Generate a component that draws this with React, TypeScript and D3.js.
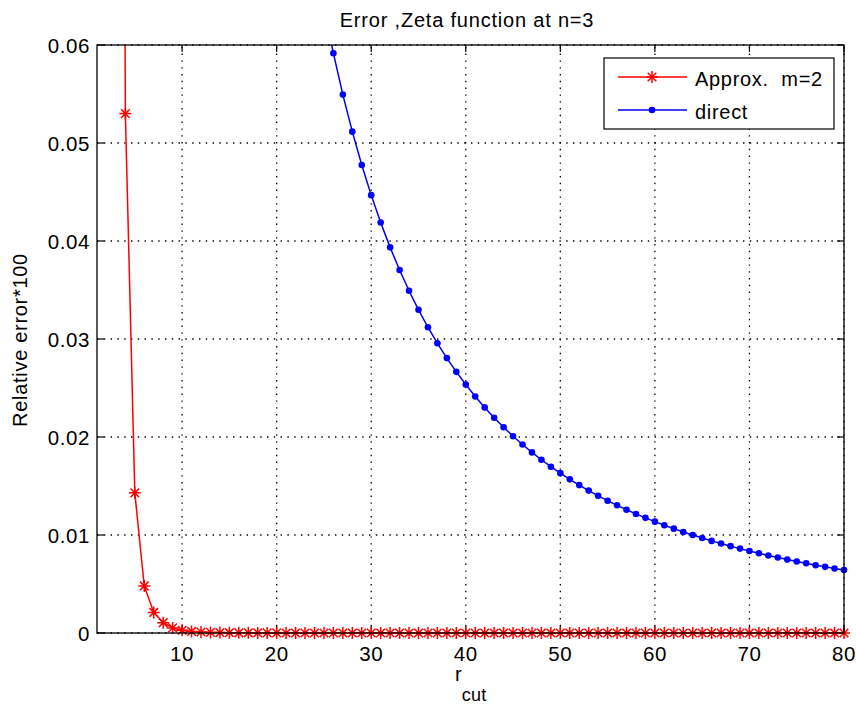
import React, { useEffect, useRef } from "react";
import * as d3 from "d3";

// r_cut values run over integers; each series starts at its own first r
const redStart = 3;
const redValues = [
  0.298, 0.053, 0.0143, 0.0048, 0.0021, 0.00105, 0.00052, 0.00028, 0.00016, 0.0001,
  0.00006, 0.00004, 0.00003, 0.00002, 0.00002, 0.00001, 0.00001, 0.00001,
  0, 0, 0, 0, 0, 0, 0, 0, 0, 0,
  0, 0, 0, 0, 0, 0, 0, 0, 0, 0,
  0, 0, 0, 0, 0, 0, 0, 0, 0, 0,
  0, 0, 0, 0, 0, 0, 0, 0, 0, 0,
  0, 0, 0, 0, 0, 0, 0, 0, 0, 0,
  0, 0, 0, 0, 0, 0, 0, 0, 0, 0,
];

const blueStart = 25;
const blueValues = [
  0.06389, 0.05916, 0.05494, 0.05116, 0.04775, 0.04468, 0.04189, 0.03935, 0.03704, 0.03492,
  0.03298, 0.0312, 0.02956, 0.02805, 0.02665, 0.02535, 0.02414, 0.02302, 0.02197, 0.021,
  0.02008, 0.01923, 0.01843, 0.01768, 0.01697, 0.01631, 0.01568, 0.01509, 0.01453, 0.014,
  0.0135, 0.01303, 0.01258, 0.01215, 0.01175, 0.01136, 0.011, 0.01065, 0.01031, 0.01,
  0.00969, 0.0094, 0.00913, 0.00886, 0.00861, 0.00837, 0.00814, 0.00791, 0.0077, 0.00749,
  0.0073, 0.00711, 0.00692, 0.00675, 0.00658, 0.00642,
];

const xTicks = [10, 20, 30, 40, 50, 60, 70, 80];
const yTicks = [0, 0.01, 0.02, 0.03, 0.04, 0.05, 0.06];
const yTickLabels = ["0", "0.01", "0.02", "0.03", "0.04", "0.05", "0.06"];
const seriesNames = ["Approx.  m=2", "direct"];

const W = 856;
const H = 706;
const left = 97, right = 844, top = 45, bottom = 633;
const FONT = "'Liberation Sans', Arial, Helvetica, sans-serif";

export default function App() {
  const ref = useRef<SVGSVGElement>(null);

  useEffect(() => {
    const svg = d3.select(ref.current);
    svg.selectAll("*").remove();

    const x = d3.scaleLinear().domain([1, 80]).range([left, right]);
    const y = d3.scaleLinear().domain([0, 0.06]).range([bottom, top]);

    const red = redValues.map((v, i) => ({ r: redStart + i, v }));
    const blue = blueValues.map((v, i) => ({ r: blueStart + i, v }));

    svg.append("defs").append("clipPath").attr("id", "plotClip")
      .append("rect").attr("x", left).attr("y", top)
      .attr("width", right - left).attr("height", bottom - top);

    // dotted grid
    const grid = svg.append("g").attr("stroke", "#000").attr("stroke-width", 1.3)
      .attr("stroke-dasharray", "1.4,5.4");
    grid.selectAll("line.gx").data(xTicks).join("line")
      .attr("x1", (d) => x(d)).attr("x2", (d) => x(d))
      .attr("y1", bottom).attr("y2", top);
    grid.selectAll("line.gy").data(yTicks).join("line")
      .attr("x1", left).attr("x2", right)
      .attr("y1", (d) => y(d)).attr("y2", (d) => y(d));

    // tick marks (inward, on all four sides)
    const tl = 7;
    const ticks = svg.append("g").attr("stroke", "#000").attr("stroke-width", 1.2);
    xTicks.forEach((t) => {
      ticks.append("line").attr("x1", x(t)).attr("x2", x(t)).attr("y1", bottom).attr("y2", bottom - tl);
      ticks.append("line").attr("x1", x(t)).attr("x2", x(t)).attr("y1", top).attr("y2", top + tl);
    });
    yTicks.forEach((t) => {
      ticks.append("line").attr("x1", left).attr("x2", left + tl).attr("y1", y(t)).attr("y2", y(t));
      ticks.append("line").attr("x1", right).attr("x2", right - tl).attr("y1", y(t)).attr("y2", y(t));
    });

    // lines
    const line = d3.line<{ r: number; v: number }>().x((d) => x(d.r)).y((d) => y(d.v));
    const lines = svg.append("g").attr("clip-path", "url(#plotClip)");
    lines.append("path").datum(blue).attr("d", line).attr("fill", "none")
      .attr("stroke", "#0000ff").attr("stroke-width", 1.5);
    lines.append("path").datum(red).attr("d", line).attr("fill", "none")
      .attr("stroke", "#ff0000").attr("stroke-width", 1.5);

    // markers (only points inside the y-limits are drawn)
    const inRange = (d: { v: number }) => d.v <= 0.06 && d.v >= 0;
    svg.append("g").selectAll("circle").data(blue.filter(inRange)).join("circle")
      .attr("cx", (d) => x(d.r)).attr("cy", (d) => y(d.v)).attr("r", 3.3)
      .attr("fill", "#0000ff");

    const h = 6;
    const k = h * 0.72;
    const star = `M${-h},0L${h},0M0,${-h}L0,${h}M${-k},${-k}L${k},${k}M${-k},${k}L${k},${-k}`;
    svg.append("g").selectAll("path").data(red.filter(inRange)).join("path")
      .attr("transform", (d) => `translate(${x(d.r)},${y(d.v)})`)
      .attr("d", star).attr("fill", "none").attr("stroke", "#ff0000").attr("stroke-width", 1.5);

    // axes box
    svg.append("rect").attr("x", left).attr("y", top)
      .attr("width", right - left).attr("height", bottom - top)
      .attr("fill", "none").attr("stroke", "#000").attr("stroke-width", 1.3);

    const txt = svg.append("g").attr("font-family", FONT).attr("fill", "#000");

    // tick labels
    txt.selectAll("text.xt").data(xTicks).join("text")
      .attr("x", (d) => x(d)).attr("y", 661).attr("text-anchor", "middle")
      .attr("font-size", 20.5).attr("letter-spacing", 0.6).text((d) => String(d));
    txt.selectAll("text.yt").data(yTicks).join("text")
      .attr("x", 90).attr("y", (d) => y(d) + 7.5).attr("text-anchor", "end")
      .attr("font-size", 20.5).attr("letter-spacing", 0.6)
      .text((_, i) => yTickLabels[i]);

    // title
    txt.append("text").attr("x", 467).attr("y", 27).attr("text-anchor", "middle")
      .attr("font-size", 20).attr("letter-spacing", 0.8)
      .text("Error ,Zeta function at n=3");

    // x label with subscript
    const xl = txt.append("text").attr("x", 455).attr("y", 681).attr("font-size", 20);
    xl.append("tspan").text("r");
    xl.append("tspan").attr("dy", 20).attr("font-size", 18).attr("letter-spacing", 0.3).text("cut");

    // y label
    txt.append("text").attr("transform", "translate(27,340) rotate(-90)")
      .attr("text-anchor", "middle").attr("font-size", 20).attr("letter-spacing", 0.7)
      .text("Relative error*100");

    // legend
    const lg = svg.append("g");
    lg.append("rect").attr("x", 604).attr("y", 58).attr("width", 230).attr("height", 71)
      .attr("fill", "#fff").attr("stroke", "#000").attr("stroke-width", 1.2);
    const rows = [
      { y: 77, color: "#ff0000", kind: "star" },
      { y: 110, color: "#0000ff", kind: "dot" },
    ];
    rows.forEach((row, i) => {
      lg.append("line").attr("x1", 618).attr("x2", 687).attr("y1", row.y).attr("y2", row.y)
        .attr("stroke", row.color).attr("stroke-width", 1.5);
      if (row.kind === "star") {
        lg.append("path").attr("transform", `translate(652,${row.y})`).attr("d", star)
          .attr("fill", "none").attr("stroke", row.color).attr("stroke-width", 1.5);
      } else {
        lg.append("circle").attr("cx", 652).attr("cy", row.y).attr("r", 3.3).attr("fill", row.color);
      }
      lg.append("text").attr("x", 695).attr("y", row.y + 9).attr("font-family", FONT)
        .attr("font-size", 20).attr("letter-spacing", 0.7).attr("xml:space", "preserve")
        .style("white-space", "pre").text(seriesNames[i]);
    });
  }, []);

  return (
    <div style={{ position: "absolute", left: 0, top: 0 }}>
      <svg ref={ref} width={W} height={H} style={{ display: "block", background: "#fff" }} />
    </div>
  );
}
